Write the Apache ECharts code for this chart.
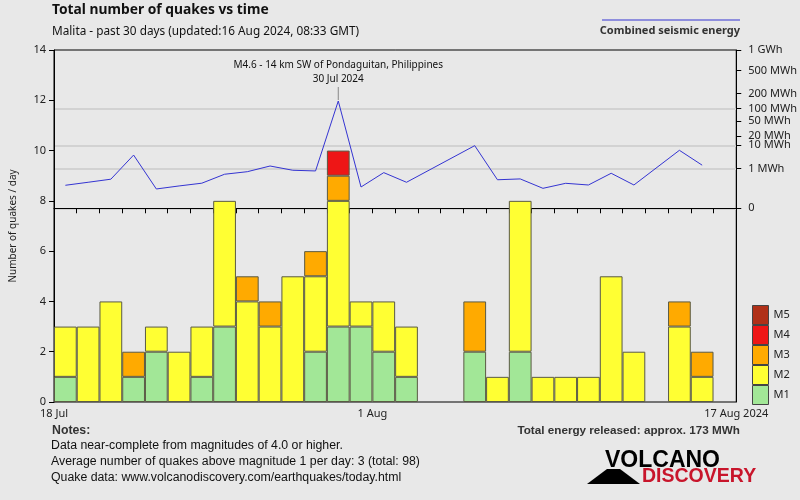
<!DOCTYPE html>
<html>
<head>
<meta charset="utf-8">
<script src="https://cdn.jsdelivr.net/npm/echarts@6/dist/echarts.min.js"></script>
<style>html,body{margin:0;padding:0;background:#e8e8e8;}#c{width:800px;height:500px;}</style>
</head>
<body>
<div id="c"></div>
<script>
// ---- data ----
const days = ['18 Jul','19 Jul','20 Jul','21 Jul','22 Jul','23 Jul','24 Jul','25 Jul','26 Jul','27 Jul',
  '28 Jul','29 Jul','30 Jul','31 Jul','1 Aug','2 Aug','3 Aug','4 Aug','5 Aug','6 Aug',
  '7 Aug','8 Aug','9 Aug','10 Aug','11 Aug','12 Aug','13 Aug','14 Aug','15 Aug','16 Aug'];
const m1 = [1,0,0,1,2,0,1,3,0,0,0,2,3,3,2,1,0,0,2,0,2,0,0,0,0,0,0,0,0,0];
const m2 = [2,3,4,0,1,2,2,5,4,3,5,3,5,1,2,2,0,0,0,1,6,1,1,1,5,2,0,3,1,0];
const m3 = [0,0,0,1,0,0,0,0,1,1,0,1,1,0,0,0,0,0,2,0,0,0,0,0,0,0,0,1,1,0];
const m4 = [0,0,0,0,0,0,0,0,0,0,0,0,1,0,0,0,0,0,0,0,0,0,0,0,0,0,0,0,0,0];
const m5 = [0,0,0,0,0,0,0,0,0,0,0,0,0,0,0,0,0,0,0,0,0,0,0,0,0,0,0,0,0,0];
// combined seismic energy per day, MWh (null = no quakes)
const energy = [0.065,0.12,0.21,4.3,0.027,0.056,0.10,0.46,0.66,1.36,0.80,0.73,143,0.044,0.58,0.12,null,null,
  9.7,0.19,0.22,0.032,0.098,0.069,0.53,0.069,null,6.6,1.5,null];
const energyTicks = [0,1,10,20,50,100,200,500,1000];
const energyTickLabels = ['0','1 MWh','10 MWh','20 MWh','50 MWh','100 MWh','200 MWh','500 MWh','1 GWh'];
const energyGrid = [0,1,10,100];
const xTickLabels = {0:'18 Jul',14:'1 Aug',30:'17 Aug 2024'};
const peakDay = 12;
const peakText = ['M4.6 - 14 km SW of Pondaguitan, Philippines','30 Jul 2024'];
const magNames = ['M1','M2','M3','M4','M5'];
const magColors = ['#a2e797','#ffff33','#ffaa00','#ee1616','#b03018'];

// fifth-root scale for the energy axis
const tf = v => v == null ? null : Math.pow(v, 0.2);
const eTop = tf(1000);
const eMin = eTop - 352 / 39.76;

const chart = echarts.init(document.getElementById('c'), null, {renderer:'canvas'});
const F = 'Noto Sans, sans-serif';
const NF = 'Liberation Sans, sans-serif';

const magData = [m1,m2,m3,m4,m5];
const barSeries = magNames.map((n,i) => ({
  name: n, type: 'bar', stack: 'q', xAxisIndex: 0, yAxisIndex: 0, z: 3,
  barCategoryGap: '0%', data: magData[i].map(v => v === 0 ? '-' : v),
  itemStyle: {color: magColors[i], borderColor: '#5a5a44', borderWidth: 1},
  emphasis: {disabled: true}, animation: false
}));

chart.setOption({
  backgroundColor: '#e8e8e8',
  animation: false,
  textStyle: {fontFamily: F},
  grid: {left: 52, right: 60, top: 50, bottom: 98, show: true, borderColor: '#000', borderWidth: 1, backgroundColor: 'transparent'},
  legend: {
    data: ['M5','M4','M3','M2','M1'], orient: 'vertical', left: 752, top: 305, padding: 0,
    itemWidth: 16, itemHeight: 19, itemGap: 0, selectedMode: false, icon: 'rect',
    itemStyle: {borderColor: '#444', borderWidth: 1},
    textStyle: {fontSize: 11, color: '#222', fontFamily: F}
  },
  xAxis: [
    {type: 'category', data: days, show: false, boundaryGap: true},
    {type: 'value', min: 0, max: 30, interval: 1, position: 'bottom',
     axisLine: {show: true, lineStyle: {color: '#000'}},
     axisTick: {show: true, length: 5, lineStyle: {color: '#000'}},
     splitLine: {show: false},
     axisLabel: {fontSize: 11, color: '#222', margin: 6, showMinLabel: true, showMaxLabel: true,
       formatter: v => xTickLabels[v] || ''}}
  ],
  yAxis: [
    {type: 'value', min: 0, max: 14, interval: 2, position: 'left',
     name: 'Number of quakes / day', nameLocation: 'middle', nameGap: 36,
     nameTextStyle: {fontSize: 10, color: '#222'},
     axisLine: {show: true, lineStyle: {color: '#000'}},
     axisTick: {show: true, length: 5, lineStyle: {color: '#000'}},
     splitLine: {show: false},
     axisLabel: {fontSize: 11, color: '#222', margin: 8}},
    {type: 'value', min: eMin, max: eTop, position: 'right',
     axisLine: {show: true, lineStyle: {color: '#000'}},
     axisTick: {show: true, length: 5, customValues: energyTicks.map(tf), lineStyle: {color: '#000'}},
     splitLine: {show: false},
     axisLabel: {fontSize: 11, color: '#222', margin: 12, customValues: energyTicks.map(tf),
       formatter: v => {
         let best = 0, d = Infinity;
         energyTicks.forEach((t,i) => { const dd = Math.abs(tf(t) - v); if (dd < d) { d = dd; best = i; } });
         return energyTickLabels[best];
       }}}
  ],
  series: [
    {name: 'grid', type: 'line', xAxisIndex: 0, yAxisIndex: 1, data: [], silent: true, z: 0,
     markLine: {silent: true, symbol: 'none', label: {show: false}, z: 0,
       lineStyle: {color: '#d2d2d2', type: 'solid', width: 2},
       data: energyGrid.map(g => ({yAxis: tf(g)}))}},
    ...barSeries,
    {name: 'Combined seismic energy', type: 'line', xAxisIndex: 0, yAxisIndex: 1,
     data: energy.map(tf), connectNulls: true, symbol: 'none', z: 5,
     lineStyle: {color: '#3434d2', width: 1}}
  ],
  graphic: [
    {type: 'text', left: 52, top: 3, style: {text: 'Total number of quakes vs time', font: 'bold 13.8px ' + F, fill: '#111'}},
    {type: 'text', left: 52, top: 26, style: {text: 'Malita - past 30 days (updated:16 Aug 2024, 08:33 GMT)', font: '11.8px ' + F, fill: '#111'}},
    {type: 'line', shape: {x1: 602, y1: 20, x2: 740, y2: 20}, style: {stroke: '#3434d2', lineWidth: 1}},
    {type: 'text', right: 60, top: 25, style: {text: 'Combined seismic energy', font: 'bold 11px ' + F, fill: '#333'}},
    {type: 'text', left: 52, top: 425, style: {text: 'Notes:', font: 'bold 12.3px ' + NF, fill: '#333'}},
    {type: 'text', left: 51, top: 440, style: {text: 'Data near-complete from magnitudes of 4.0 or higher.', font: '12.3px ' + NF, fill: '#111'}},
    {type: 'text', left: 51, top: 456, style: {text: 'Average number of quakes above magnitude 1 per day: 3 (total: 98)', font: '12.3px ' + NF, fill: '#111'}},
    {type: 'text', left: 51, top: 472, style: {text: 'Quake data: www.volcanodiscovery.com/earthquakes/today.html', font: '12.3px ' + NF, fill: '#111'}},
    {type: 'text', right: 60, top: 425, style: {text: 'Total energy released: approx. 173 MWh', font: 'bold 11.7px ' + NF, fill: '#333'}},
    {type: 'text', left: 605, top: 449, style: {text: 'VOLCANO', font: 'bold 23px Liberation Sans, sans-serif', fill: '#000'}},
    {type: 'text', left: 642, top: 467, style: {text: 'DISCOVERY', font: 'bold 19.5px Liberation Sans Narrow, Liberation Sans, sans-serif', fill: '#c8152b'}},
    {type: 'polygon', shape: {points: [[587,484],[607,469],[620,469],[640,484]]}, style: {fill: '#000'}}
  ]
});

// annotation of the largest quake, positioned through the axes
const p = chart.convertToPixel({xAxisIndex: 0, yAxisIndex: 1}, [peakDay, tf(energy[peakDay])]);
chart.setOption({graphic: [
  {id: 'pin', type: 'line', shape: {x1: p[0], y1: p[1] - 14, x2: p[0], y2: p[1] - 1}, style: {stroke: '#888', lineWidth: 1}},
  {id: 'pt1', type: 'text', x: p[0], y: p[1] - 36, style: {text: peakText[0], font: '10px ' + F, fill: '#111', align: 'center', verticalAlign: 'middle'}},
  {id: 'pt2', type: 'text', x: p[0], y: p[1] - 22, style: {text: peakText[1], font: '10px ' + F, fill: '#111', align: 'center', verticalAlign: 'middle'}}
]});
</script>
</body>
</html>
